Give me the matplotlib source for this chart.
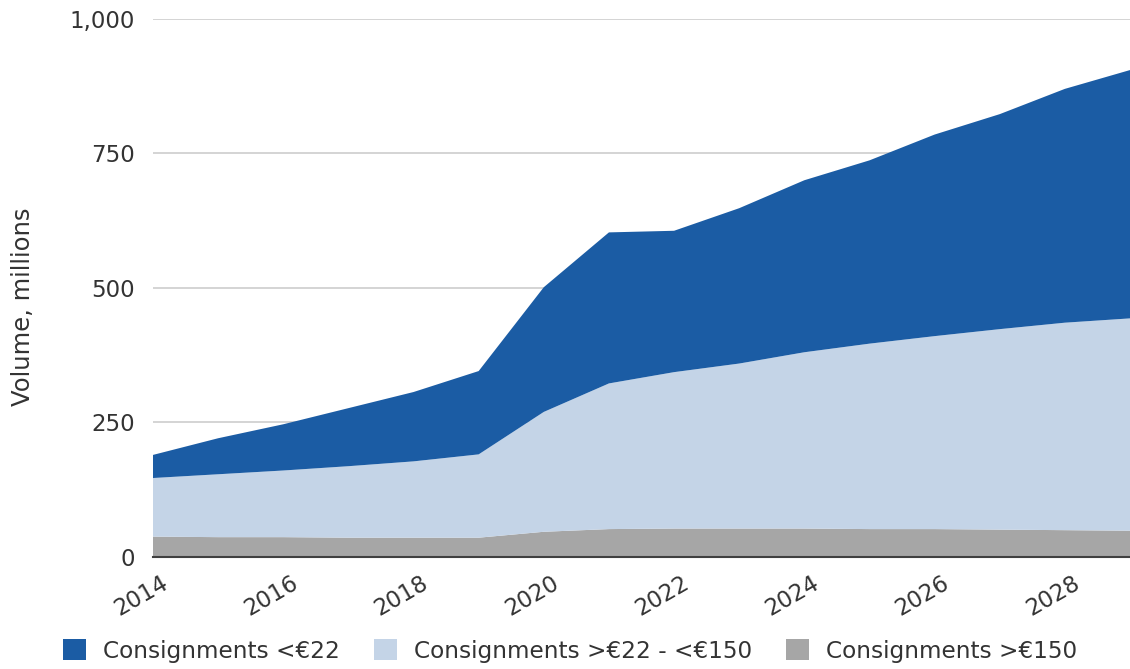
import matplotlib
matplotlib.use("Agg")
import matplotlib.pyplot as plt
import matplotlib.transforms as mtransforms
from matplotlib.patches import Patch

# data (millions of consignments)
years = [2014, 2015, 2016, 2017, 2018, 2019, 2020, 2021,
         2022, 2023, 2024, 2025, 2026, 2027, 2028, 2029]
under_22 = [43, 67, 86, 108, 129, 155, 232, 281, 263, 289, 320, 341, 375, 400, 435, 462]
from_22_to_150 = [109, 117, 124, 133, 142, 155, 223, 271, 291, 307, 328, 345, 359, 373, 386, 395]
over_150 = [37, 36, 36, 35, 35, 35, 46, 51, 52, 52, 52, 51, 51, 50, 49, 48]

labels = ["Consignments <€22", "Consignments >€22 - <€150", "Consignments >€150"]
colors = ["#1b5ca4", "#c4d4e7", "#a6a6a6"]
y_ticks = [0, 250, 500, 750, 1000]
x_ticks = [2014, 2016, 2018, 2020, 2022, 2024, 2026, 2028]

text_col = "#333333"
fs = 16.5

fig = plt.figure(figsize=(11.3, 6.69), dpi=100)
ax = fig.add_axes([153 / 1130, 1 - 556.5 / 669, 1 - 153 / 1130, (556.5 - 19) / 669])

# stacked areas, bottom to top
ax.stackplot(years, over_150, from_22_to_150, under_22,
             colors=[colors[2], colors[1], colors[0]], linewidth=0, zorder=2)

ax.set_xlim(2014, 2029)
ax.set_ylim(0, 1000)
ax.set_yticks(y_ticks)
ax.set_yticklabels([f"{v:,}" for v in y_ticks])
ax.set_xticks(x_ticks)
ax.set_xticklabels([str(x) for x in x_ticks], rotation=30, ha="center")

ax.yaxis.grid(True, color="#d4d4d4", linewidth=1.4, zorder=0)
ax.set_axisbelow(True)
for s in ["left", "right", "top"]:
    ax.spines[s].set_visible(False)
ax.spines["bottom"].set_color("#404040")
ax.spines["bottom"].set_linewidth(1.5)
ax.spines["bottom"].set_zorder(5)

ax.tick_params(axis="both", length=0, labelsize=fs, labelcolor=text_col)
ax.tick_params(axis="y", pad=13)
ax.tick_params(axis="x", pad=11)

# nudge rotated year labels a bit to the left
offset = mtransforms.ScaledTranslation(-12 / 100, 0, fig.dpi_scale_trans)
for lab in ax.get_xticklabels():
    lab.set_transform(lab.get_transform() + offset)

fig.text(23 / 1130, 1 - 307 / 669, "Volume, millions", rotation=90,
         ha="center", va="center", fontsize=17.5, color=text_col)

handles = [Patch(facecolor=c, edgecolor="none") for c in colors]
fig.legend(handles, labels, loc="center", bbox_to_anchor=(570 / 1130, 1 - 651 / 669),
           ncol=3, frameon=False, fontsize=16.7, handlelength=1.0, handleheight=1.0,
           handletextpad=0.73, columnspacing=1.47, labelcolor=text_col)

fig.savefig("out.png", dpi=100)
